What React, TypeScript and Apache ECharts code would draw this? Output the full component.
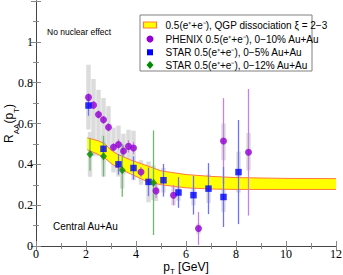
import React, { useEffect, useRef } from "react";
import * as echarts from "echarts";

// Model band (QGP dissociation, xi = 2-3)
const bandX = [2.05, 2.5, 2.75, 3.0, 3.25, 3.75, 4.4, 5.0, 6.0, 7.0, 8.0, 10.0, 12.0];
const bandUpper = [0.53, 0.515, 0.5, 0.47, 0.45, 0.423, 0.395, 0.368, 0.35, 0.341, 0.335, 0.331, 0.33];
const bandLower = [0.472, 0.448, 0.432, 0.405, 0.385, 0.355, 0.318, 0.3, 0.285, 0.279, 0.277, 0.277, 0.277];

// PHENIX 0-10% Au+Au
const phenixX = [2.1, 2.3, 2.5, 2.7, 2.9, 3.1, 3.3, 3.5, 3.7, 3.9, 4.2, 4.8, 5.5, 6.5, 7.5, 8.5];
const phenixY = [0.728, 0.69, 0.644, 0.618, 0.582, 0.484, 0.497, 0.465, 0.488, 0.48, 0.362, 0.27, 0.249, 0.086, 0.514, 0.459];
const phenixStat = [0.02, 0.02, 0.02, 0.02, 0.02, 0.02, 0.025, 0.03, 0.03, 0.03, 0.025, 0.035, 0.05, 0.08, 0.21, 0.31];
const phenixSysLow = [0.57, 0.44, 0.44, 0.42, 0.42, 0.36, 0.36, 0.35, 0.36, 0.36, 0.3, 0.22, 0.2, 0.06, 0.42, 0.37];
const phenixSysHigh = [0.888, 0.818, 0.765, 0.725, 0.685, 0.58, 0.59, 0.55, 0.57, 0.565, 0.42, 0.32, 0.3, 0.11, 0.6, 0.553];

// STAR 0-5% Au+Au
const starX = [2.1, 2.7, 3.3, 3.9, 4.5, 5.1, 5.7, 6.3, 6.9, 7.5, 8.1];
const starY = [0.688, 0.476, 0.4, 0.382, 0.314, 0.322, 0.262, 0.249, 0.281, 0.24, 0.362];
const starStat = [0.05, 0.04, 0.05, 0.057, 0.07, 0.08, 0.075, 0.095, 0.125, 0.147, 0.255];
const starSys = [0.06, 0.07, 0.06, 0.06, 0.1, 0.06, 0.04, 0.05, 0.07, 0.073, 0.1];

// STAR 0-12% Au+Au
const star12X = [2.16, 2.7, 3.45, 4.7];
const star12Y = [0.449, 0.44, 0.371, 0.31];
const star12Stat = [0.08, 0.1, 0.13, 0.256];
const star12Sys = [0.11, 0.1, 0.09, 0.085];

const xTicks = { min: 0, max: 12, interval: 2 };
const yTicks = { min: 0, max: 1.2, interval: 0.2 };

const legendLabels = [
  "0.5(e\u207A+e\u207B), QGP dissociation \u03BE = 2\u22123",
  "PHENIX 0.5(e\u207A+e\u207B), 0\u221210% Au+Au",
  "STAR 0.5(e\u207A+e\u207B), 0\u22125% Au+Au",
  "STAR 0.5(e\u207A+e\u207B), 0\u221212% Au+Au",
];

const PURPLE = "#9400d3";
const BLUE = "#0000ff";
const GREEN = "#008a00";
const SANS = "'Liberation Sans', Arial, sans-serif";
const SERIF = "'Liberation Serif', 'Times New Roman', serif";

function sysItems(xs: number[], lo: number[], hi: number[]) {
  return xs.map((x, i) => [x, lo[i], hi[i]]);
}

const boxRender = (params: any, api: any) => {
  const x = api.value(0);
  const p1 = api.coord([x, api.value(2)]);
  const p2 = api.coord([x, api.value(1)]);
  return {
    type: "rect",
    shape: { x: p1[0] - 2.2, y: p1[1], width: 4.4, height: p2[1] - p1[1] },
    style: { fill: "#dcdcdc" },
  };
};

const lineRender = (color: string) => (params: any, api: any) => {
  const x = api.value(0);
  const p1 = api.coord([x, api.value(2)]);
  const p2 = api.coord([x, api.value(1)]);
  return {
    type: "line",
    shape: { x1: p1[0], y1: p1[1], x2: p2[0], y2: p2[1] },
    style: { stroke: color, lineWidth: 1.3 },
  };
};

const bandRender = (params: any, api: any) => {
  const up = bandX.map((x, i) => api.coord([x, bandUpper[i]]));
  const lo = bandX.map((x, i) => api.coord([x, bandLower[i]]));
  const poly = up.concat(lo.slice().reverse());
  return {
    type: "group",
    children: [
      { type: "polygon", shape: { points: poly }, style: { fill: "#ffff00", stroke: null } },
      { type: "polyline", shape: { points: up }, style: { stroke: "#ff7a3c", lineWidth: 1, fill: null } },
      { type: "polyline", shape: { points: lo }, style: { stroke: "#ff7a3c", lineWidth: 1, fill: null } },
    ],
  };
};

function App() {
  const ref = useRef<HTMLDivElement>(null);
  useEffect(() => {
    if (!ref.current) return;
    const chart = echarts.init(ref.current, null, { renderer: "svg" });
    const axisCommon = {
      axisLine: { show: true, lineStyle: { color: "#444", width: 1 } },
      axisTick: { show: true, inside: true, length: 5, lineStyle: { color: "#888" } },
      minorTick: { show: true, splitNumber: 2, length: 3, lineStyle: { color: "#888" } },
      splitLine: { show: false },
    };
    const option: any = {
      animation: false,
      grid: { left: 36, right: 7, top: 1, bottom: 29, containLabel: false, outerBoundsMode: "none" },
      xAxis: [
        {
          type: "value",
          ...xTicks,
          position: "bottom",
          ...axisCommon,
          axisLabel: { fontFamily: SERIF, fontSize: 12, lineHeight: 12, color: "#000", margin: 2 },
          name: "{r|p}{s|T}{r| [GeV]}",
          nameLocation: "middle",
          nameGap: 14,
          nameMoveOverlap: false,
          nameTextStyle: {
            rich: {
              r: { fontFamily: SANS, fontSize: 12, color: "#000", lineHeight: 13, verticalAlign: "middle" },
              s: { fontFamily: SANS, fontSize: 8, color: "#000", lineHeight: 13, verticalAlign: "bottom", padding: [0, 0, -2, 0] },
            },
          },
        },
        {
          type: "value",
          ...xTicks,
          position: "top",
          ...axisCommon,
          axisLabel: { show: false },
        },
      ],
      yAxis: [
        {
          type: "value",
          ...yTicks,
          position: "left",
          ...axisCommon,
          axisLabel: {
            fontFamily: SERIF,
            fontSize: 12,
            color: "#000",
            margin: 3,
            formatter: (v: number) => (Math.abs(v - 1.2) < 1e-6 ? "" : Math.abs(v) < 1e-6 ? "0" : Math.abs(v - 1) < 1e-6 ? "1" : v.toFixed(1)),
          },
          name: "{r|R}{s|AA}{r|(p}{s|T}{r|)}",
          nameLocation: "middle",
          nameRotate: 90,
          nameGap: 19,
          nameMoveOverlap: false,
          nameTextStyle: {
            rich: {
              r: { fontFamily: SANS, fontSize: 12, color: "#000", lineHeight: 16, verticalAlign: "middle" },
              s: { fontFamily: SANS, fontSize: 8, color: "#000", lineHeight: 16, verticalAlign: "bottom", padding: [0, 0, -3, 0] },
            },
          },
        },
        {
          type: "value",
          ...yTicks,
          position: "right",
          ...axisCommon,
          axisLabel: { show: false },
        },
      ],
      series: [
        { type: "custom", name: "phenixSys", renderItem: boxRender, data: sysItems(phenixX, phenixSysLow, phenixSysHigh), z: 1, silent: true },
        { type: "custom", name: "starSys", renderItem: boxRender, data: sysItems(starX, starY.map((y, i) => y - starSys[i]), starY.map((y, i) => y + starSys[i])), z: 1, silent: true },
        { type: "custom", name: "star12Sys", renderItem: boxRender, data: sysItems(star12X, star12Y.map((y, i) => y - star12Sys[i]), star12Y.map((y, i) => y + star12Sys[i])), z: 1, silent: true },
        { type: "custom", name: "band", renderItem: bandRender, data: [[bandX[0], bandLower[0], bandUpper[0]]], z: 2, silent: true },
        { type: "custom", name: "phenixStat", renderItem: lineRender("#c97fe8"), data: sysItems(phenixX, phenixY.map((y, i) => y - phenixStat[i]), phenixY.map((y, i) => y + phenixStat[i])), z: 3, silent: true },
        { type: "custom", name: "starStat", renderItem: lineRender("#7070ff"), data: sysItems(starX, starY.map((y, i) => y - starStat[i]), starY.map((y, i) => y + starStat[i])), z: 3, silent: true },
        { type: "custom", name: "star12Stat", renderItem: lineRender("#6fb86f"), data: sysItems(star12X, star12Y.map((y, i) => y - star12Stat[i]), star12Y.map((y, i) => y + star12Stat[i])), z: 3, silent: true },
        { type: "scatter", name: "PHENIX", data: phenixX.map((x, i) => [x, phenixY[i]]), symbol: "circle", symbolSize: 7, itemStyle: { color: PURPLE }, z: 4 },
        { type: "scatter", name: "STAR 0-5%", data: starX.map((x, i) => [x, starY[i]]), symbol: "rect", symbolSize: 6.5, itemStyle: { color: BLUE }, z: 4 },
        { type: "scatter", name: "STAR 0-12%", data: star12X.map((x, i) => [x, star12Y[i]]), symbol: "diamond", symbolSize: [7, 8], itemStyle: { color: GREEN }, z: 4 },
      ],
      graphic: [
        { type: "text", x: 47, y: 31.7, style: { text: "No nuclear effect", font: `8.5px ${SANS}`, fill: "#000", verticalAlign: "middle", align: "left" } },
        { type: "text", x: 53, y: 226.7, style: { text: "Central Au+Au", font: `10px ${SANS}`, fill: "#000", verticalAlign: "middle", align: "left" } },
        {
          type: "group",
          x: 140,
          y: 15,
          z: 100,
          children: [
            { type: "rect", shape: { x: 0, y: 0, width: 172, height: 56 }, style: { fill: "#fff", stroke: "#808080", lineWidth: 1 } },
            { type: "rect", shape: { x: 3.5, y: 7, width: 13, height: 6 }, style: { fill: "#ffff00", stroke: "#ff7a3c", lineWidth: 1.2 } },
            { type: "circle", shape: { cx: 10, cy: 24, r: 3.5 }, style: { fill: PURPLE } },
            { type: "rect", shape: { x: 7, y: 34.3, width: 6, height: 6 }, style: { fill: BLUE } },
            { type: "polygon", shape: { points: [[10, 46], [13.5, 50], [10, 54], [6.5, 50]] }, style: { fill: GREEN } },
            ...legendLabels.map((t, i) => ({
              type: "text",
              x: 25.5,
              y: [10, 24, 37.3, 50][i],
              style: { text: t, font: `10px ${SANS}`, fill: "#000", verticalAlign: "middle", align: "left" },
            })),
          ],
        },
      ],
    };
    chart.setOption(option);
    return () => chart.dispose();
  }, []);
  return <div ref={ref} style={{ position: "absolute", left: 0, top: 0, width: 343, height: 275 }} />;
}

export default App;
